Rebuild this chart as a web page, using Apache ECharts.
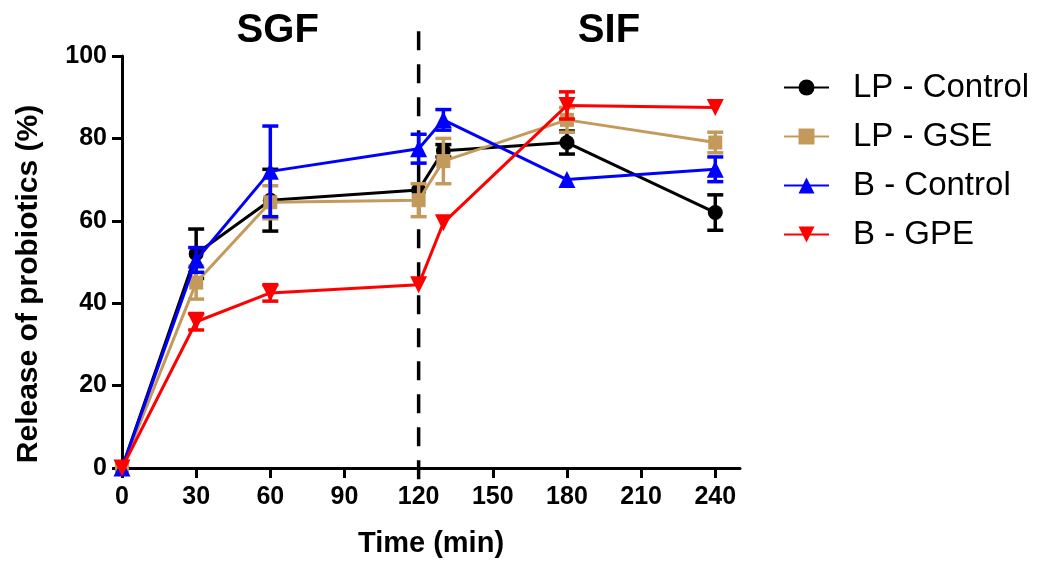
<!DOCTYPE html>
<html>
<head>
<meta charset="utf-8">
<title>Release of probiotics</title>
<script src="https://cdn.jsdelivr.net/npm/echarts@6/dist/echarts.min.js"></script>
<style>
  html, body { margin: 0; padding: 0; background: #fff; }
  #main { width: 1039px; height: 563px; }
</style>
</head>
<body>
<div id="main"></div>
<script>
// time points (min)
var times = [0, 30, 60, 120, 130, 180, 240];

// mean release (%) and error (SD) per group
var lpControl   = [0, 52, 65, 67.5, 77, 79, 62];
var lpControlSd = [0, 6, 7.5, 0, 1.5, 2.8, 4.3];
var lpGse       = [0, 45, 64.5, 65, 74.5, 84.5, 79];
var lpGseSd     = [0, 4, 4, 4, 5.5, 3, 2.5];
var bControl    = [0, 50.5, 72, 77.5, 84.5, 70, 72.5];
var bControlSd  = [0, 3, 11, 3.5, 2.5, 0, 3];
var bGpe        = [0, 35.5, 42.5, 44.5, 59.5, 88, 87.5];
var bGpeSd      = [0, 2, 2, 0, 0, 3.3, 0];

var xTicks = [0, 30, 60, 90, 120, 150, 180, 210, 240];
var phaseBoundary = 120;
var phaseNames = ['SGF', 'SIF'];
var phaseCenters = [63, 197];

var FONT = 'Liberation Sans, Arial, sans-serif';

var groups = [
  { name: 'LP - Control', mean: lpControl, sd: lpControlSd, color: '#000000', symbol: 'circle', size: 15, rot: 0 },
  { name: 'LP - GSE', mean: lpGse, sd: lpGseSd, color: '#c49a5c', symbol: 'rect', size: 14, rot: 0 },
  { name: 'B - Control', mean: bControl, sd: bControlSd, color: '#0000ff', symbol: 'triangle', size: 17, rot: 0 },
  { name: 'B - GPE', mean: bGpe, sd: bGpeSd, color: '#ff0000', symbol: 'triangle', size: 17, rot: 180 }
];

function pairs(mean, sd) {
  var out = [];
  for (var i = 0; i < times.length; i++) {
    out.push(sd ? [times[i], mean[i], sd[i]] : [times[i], mean[i]]);
  }
  return out;
}

function errorBars(color) {
  return function(params, api) {
    var x = api.value(0), y = api.value(1), e = api.value(2);
    if (!e) return null;
    var hi = api.coord([x, y + e]);
    var lo = api.coord([x, y - e]);
    var w = 8;
    var st = { stroke: color, lineWidth: 3.5 };
    return {
      type: 'group',
      children: [
        { type: 'line', shape: { x1: hi[0], y1: hi[1], x2: lo[0], y2: lo[1] }, style: st },
        { type: 'line', shape: { x1: hi[0] - w, y1: hi[1], x2: hi[0] + w, y2: hi[1] }, style: st },
        { type: 'line', shape: { x1: lo[0] - w, y1: lo[1], x2: lo[0] + w, y2: lo[1] }, style: st }
      ]
    };
  };
}

var series = [];

// dashed boundary between gastric and intestinal phase
series.push({
  type: 'custom',
  name: 'boundary',
  clip: false,
  silent: true,
  z: 1,
  data: [[phaseBoundary]],
  renderItem: function(params, api) {
    var top = api.coord([api.value(0), 106]);
    var bot = api.coord([api.value(0), -4.3]);
    return {
      type: 'line',
      shape: { x1: top[0], y1: top[1], x2: bot[0], y2: bot[1] },
      style: { stroke: '#000', lineWidth: 3.5, lineDash: [19, 14] }
    };
  }
});

// phase labels
series.push({
  type: 'custom',
  name: 'phases',
  clip: false,
  silent: true,
  data: phaseCenters.map(function(c, i) { return [c, i]; }),
  renderItem: function(params, api) {
    var p = api.coord([api.value(0), 106]);
    return {
      type: 'text',
      x: p[0], y: p[1],
      style: {
        text: phaseNames[api.value(1)],
        fontFamily: FONT, fontWeight: 'bold', fontSize: 40,
        fill: '#000', align: 'center', verticalAlign: 'middle'
      }
    };
  }
});

groups.forEach(function(g, k) {
  series.push({
    type: 'custom',
    name: g.name + ' err',
    silent: true,
    z: 3 + k * 2,
    data: pairs(g.mean, g.sd),
    renderItem: errorBars(g.color)
  });
  series.push({
    type: 'line',
    name: g.name,
    z: 4 + k * 2,
    data: pairs(g.mean),
    symbol: g.symbol,
    symbolSize: g.size,
    symbolRotate: g.rot,
    showAllSymbol: true,
    lineStyle: { color: g.color, width: 3 },
    itemStyle: { color: g.color, borderWidth: 0 },
    emphasis: { disabled: true }
  });
});

var chart = echarts.init(document.getElementById('main'), null, { renderer: 'canvas' });

chart.setOption({
  animation: false,
  backgroundColor: '#fff',
  textStyle: { fontFamily: FONT },
  grid: { left: 122, right: 299, top: 56, bottom: 94, containLabel: false },
  legend: {
    data: groups.map(function(g) { return g.name; }),
    orient: 'vertical',
    left: 778,
    top: 66,
    itemWidth: 45,
    itemHeight: 20,
    itemGap: 16,
    textStyle: { fontFamily: FONT, fontSize: 33, color: '#000', lineHeight: 32, padding: [0, 0, 0, 19] }
  },
  xAxis: {
    type: 'value',
    min: 0,
    max: 250,
    interval: 30,
    name: 'Time (min)',
    nameLocation: 'middle',
    nameGap: 61,
    nameTextStyle: { fontFamily: FONT, fontWeight: 'bold', fontSize: 29, color: '#000' },
    axisLine: { show: true, lineStyle: { color: '#000', width: 3 } },
    axisTick: { show: true, length: 10, lineStyle: { color: '#000', width: 3 }, customValues: xTicks },
    axisLabel: { fontFamily: FONT, fontWeight: 'bold', fontSize: 25, color: '#000', margin: 17, customValues: xTicks },
    splitLine: { show: false }
  },
  yAxis: {
    type: 'value',
    min: 0,
    max: 100,
    interval: 20,
    name: 'Release of probiotics (%)',
    nameLocation: 'middle',
    nameGap: 78,
    nameTextStyle: { fontFamily: FONT, fontWeight: 'bold', fontSize: 30, color: '#000', padding: [0, 44, 0, 0] },
    axisLine: { show: true, lineStyle: { color: '#000', width: 3 } },
    axisTick: { show: true, length: 10, lineStyle: { color: '#000', width: 3 } },
    axisLabel: { fontFamily: FONT, fontWeight: 'bold', fontSize: 25, color: '#000', margin: 15 },
    splitLine: { show: false }
  },
  series: series
});
</script>
</body>
</html>
